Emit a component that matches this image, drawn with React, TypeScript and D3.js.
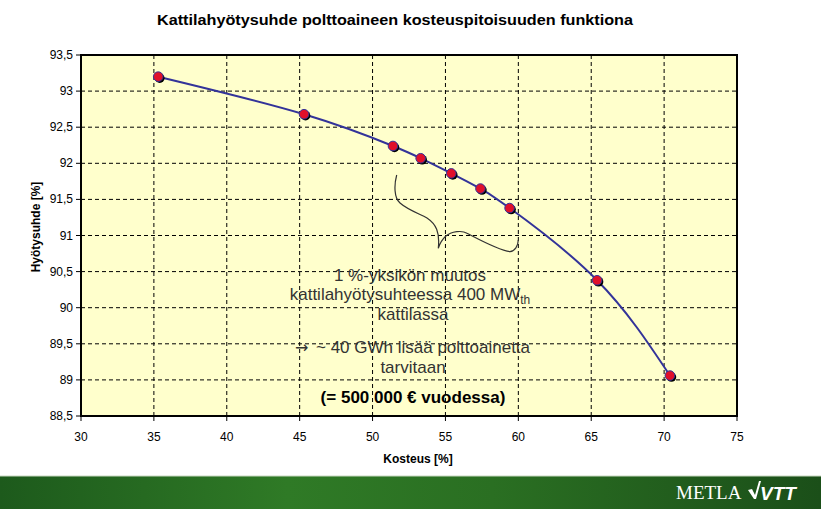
import React from "react";
import * as d3 from "d3";

const moisture = [35.3, 45.3, 51.4, 53.3, 55.4, 57.4, 59.4, 65.4, 70.4];
const efficiency = [93.2, 92.68, 92.24, 92.07, 91.86, 91.65, 91.38, 90.38, 89.06];
const xTicks = [30, 35, 40, 45, 50, 55, 60, 65, 70, 75];
const yTicks = [88.5, 89, 89.5, 90, 90.5, 91, 91.5, 92, 92.5, 93, 93.5];
const title = "Kattilahyötysuhde polttoaineen kosteuspitoisuuden funktiona";
const xLabel = "Kosteus [%]";
const yLabel = "Hyötysuhde [%]";

const W = 821, H = 509;
const L = 81, R = 737, T = 55, B = 416;

export default function App() {
  const x = d3.scaleLinear().domain([30, 75]).range([L, R]);
  const y = d3.scaleLinear().domain([88.5, 93.5]).range([B, T]);
  const pts = moisture.map((m, i) => [m, efficiency[i]] as [number, number]);
  const line = d3.line<[number, number]>().x(d => x(d[0])).y(d => y(d[1])).curve(d3.curveNatural);
  const fmt = (v: number) => String(v).replace(".", ",");
  const font = "'Liberation Sans Narrow', 'Liberation Sans', Arial, sans-serif";
  const textFont = "'Liberation Sans', Arial, sans-serif";
  return (
    <svg width={W} height={H} style={{ position: "absolute", left: 0, top: 0, display: "block" }}>
      <defs>
        <linearGradient id="foot" x1="0" x2="1" y1="0" y2="0">
          <stop offset="0" stopColor="#1d5a1c" />
          <stop offset="0.35" stopColor="#2f7a26" />
          <stop offset="0.6" stopColor="#2a6f22" />
          <stop offset="1" stopColor="#1b4f19" />
        </linearGradient>
      </defs>
      <rect x={0} y={0} width={W} height={H} fill="#ffffff" />
      <text x={395} y={25} textAnchor="middle" fontFamily={font} fontWeight="bold" fontSize={15} textLength={476} lengthAdjust="spacingAndGlyphs" fill="#000">{title}</text>
      <rect x={L} y={T} width={R - L} height={B - T} fill="#ffffcc" />
      {yTicks.slice(1, -1).map(t => (
        <line key={"gy" + t} x1={L} x2={R} y1={y(t)} y2={y(t)} stroke="#000" strokeWidth={1} strokeDasharray="4,3" />
      ))}
      {xTicks.slice(1, -1).map(t => (
        <line key={"gx" + t} x1={x(t)} x2={x(t)} y1={T} y2={B} stroke="#000" strokeWidth={1} strokeDasharray="4,3" />
      ))}
      <rect x={L} y={T} width={R - L} height={B - T} fill="none" stroke="#000" strokeWidth={2} />
      {yTicks.map(t => (
        <g key={"ty" + t}>
          <line x1={L - 5} x2={L} y1={y(t)} y2={y(t)} stroke="#000" />
          <text x={L - 8} y={y(t) + 4} textAnchor="end" fontFamily={font} fontSize={12} fill="#000">{fmt(t)}</text>
        </g>
      ))}
      {xTicks.map(t => (
        <g key={"tx" + t}>
          <line x1={x(t)} x2={x(t)} y1={B} y2={B + 5} stroke="#000" />
          <text x={x(t)} y={441} textAnchor="middle" fontFamily={font} fontSize={12} fill="#000">{t}</text>
        </g>
      ))}
      <text x={418} y={463} textAnchor="middle" fontFamily={font} fontWeight="bold" fontSize={12}>{xLabel}</text>
      <text transform={`translate(40,227) rotate(-90)`} textAnchor="middle" fontFamily={font} fontWeight="bold" fontSize={12}>{yLabel}</text>

      <path d={line(pts) || ""} fill="none" stroke="#333399" strokeWidth={2} />
      {pts.map((p, i) => (
        <g key={"p" + i}>
          <circle cx={x(p[0]) + 1.5} cy={y(p[1]) + 1.5} r={4.8} fill="#000" />
          <circle cx={x(p[0])} cy={y(p[1])} r={4.8} fill="#e0102a" stroke="#333399" strokeWidth={1} />
        </g>
      ))}

      <path d="M396.7,175 C394,185 394,198 400,203 C408,210 420,214 427,218 C436,224 440,232 438.3,248.3 C441,240 446,233 456.7,231.7 C462,231 465,232 467,233.3 C480,240 498,250 510,251.7 C515,251 518,246 518.3,240" fill="none" stroke="#333" strokeWidth={1.2} />

      <g fontFamily={textFont} fontSize={17} fill="#333" textAnchor="middle">
        <text x={410} y={281}>1 %-yksikön muutos</text>
        <text x={410} y={300}>kattilahyötysuhteessa 400 MW<tspan fontSize={12} dy={4}>th</tspan></text>
        <text x={413} y={320}>kattilassa</text>
        <text x={295} y={353} textAnchor="start" fontFamily="'DejaVu Sans', sans-serif" fontSize={16}>→</text>
        <text x={316} y={353} textAnchor="start">~ 40 GWh lisää polttoainetta</text>
        <text x={413} y={373}>tarvitaan</text>
        <text x={413} y={403} fontWeight="bold" fill="#000">(= 500 000 € vuodessa)</text>
      </g>

      <rect x={0} y={476} width={W} height={H - 476} fill="url(#foot)" />
      <line x1={0} x2={W} y1={476} y2={476} stroke="#c8d8c0" strokeWidth={1} />
      <text x={676} y={499} fontFamily="'Liberation Serif', 'DejaVu Serif', serif" fontSize={19} fill="#ffffff">METLA</text>
      <g fill="#ffffff" stroke="none">
        <path d="M748,490 l4,-1 l3,6 l4,-14 l2,0 l-5,18 l-2,0 z" />
        <text x={760} y={500} fontFamily="'Liberation Sans', Arial, sans-serif" fontWeight="bold" fontStyle="italic" fontSize={19} fill="#fff">VTT</text>
      </g>
    </svg>
  );
}
